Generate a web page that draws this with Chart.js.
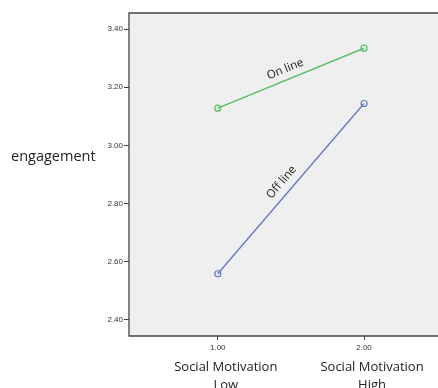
<!DOCTYPE html>
<html>
<head>
<meta charset="utf-8">
<script src="https://cdn.jsdelivr.net/npm/chart.js@4.4.1/dist/chart.umd.min.js"></script>
<style>
  html, body { margin: 0; padding: 0; background: #fff; overflow: hidden; }
  canvas { display: block; }
</style>
</head>
<body>
<canvas id="chart" width="458" height="388"></canvas>
<script>
// --- DATA ---
const xValues = [1, 2];
const groupLabels = [['Social Motivation', 'Low'], ['Social Motivation', 'High']];
const onlineValues = [3.128, 3.334];
const offlineValues = [2.559, 3.144];
const seriesNames = ['On line', 'Off line'];
const yTicks = [2.4, 2.6, 2.8, 3.0, 3.2, 3.4];
const yTitle = 'engagement';

const toPoints = vals => vals.map((v, i) => ({ x: xValues[i], y: v }));

// plot background + frame (right edge falls outside the window)
const plotBg = {
    id: 'plotBg',
    beforeDraw(chart) {
        const { ctx, chartArea: a } = chart;
        ctx.save();
        ctx.fillStyle = '#efefef';
        ctx.fillRect(a.left, a.top, a.right - a.left, a.bottom - a.top);
        ctx.strokeStyle = '#444';
        ctx.lineWidth = 1.3;
        ctx.beginPath();
        ctx.moveTo(a.right + 2, a.top);
        ctx.lineTo(a.left, a.top);
        ctx.lineTo(a.left, a.bottom);
        ctx.lineTo(a.right + 2, a.bottom);
        ctx.stroke();
        ctx.restore();
    }
};

// line labels, category names, y title
const extraText = {
    id: 'extraText',
    afterDraw(chart) {
        const { ctx, scales: { x, y }, chartArea: a } = chart;
        ctx.save();
        ctx.fillStyle = '#222';

        // labels along each line
        chart.data.datasets.forEach(ds => {
            const p0 = { x: x.getPixelForValue(ds.data[0].x), y: y.getPixelForValue(ds.data[0].y) };
            const p1 = { x: x.getPixelForValue(ds.data[1].x), y: y.getPixelForValue(ds.data[1].y) };
            const ang = Math.atan2(p1.y - p0.y, p1.x - p0.x);
            const mx = (p0.x + p1.x) / 2 - 2, my = (p0.y + p1.y) / 2;
            ctx.save();
            ctx.translate(mx, my);
            ctx.rotate(ang);
            ctx.font = '11.5px "Open Sans"';
            ctx.textAlign = 'center';
            ctx.textBaseline = 'bottom';
            ctx.fillText(ds.label, 0, -4);
            ctx.restore();
        });

        // category names under ticks (sit a little right of the tick, as in the source)
        ctx.font = '13px "Open Sans"';
        ctx.textAlign = 'center';
        ctx.textBaseline = 'middle';
        xValues.forEach((v, i) => {
            const px = x.getPixelForValue(v) + 8;
            groupLabels[i].forEach((line, j) => ctx.fillText(line, px, a.bottom + 31 + j * 18));
        });

        // y title (horizontal)
        ctx.font = '14.5px "Open Sans"';
        ctx.textAlign = 'left';
        ctx.fillText(yTitle, 11, y.getPixelForValue(2.96));
        ctx.restore();
    }
};

new Chart(document.getElementById('chart'), {
    type: 'scatter',
    data: {
        datasets: [
            {
                label: seriesNames[0],
                data: toPoints(onlineValues),
                showLine: true,
                borderColor: '#5cbf6c',
                borderWidth: 1.5,
                pointRadius: 3,
                pointBorderWidth: 1.2,
                pointBackgroundColor: 'rgba(0,0,0,0)',
                pointBorderColor: '#5cbf6c'
            },
            {
                label: seriesNames[1],
                data: toPoints(offlineValues),
                showLine: true,
                borderColor: '#6576bd',
                borderWidth: 1.3,
                pointRadius: 3,
                pointBorderWidth: 1.2,
                pointBackgroundColor: 'rgba(0,0,0,0)',
                pointBorderColor: '#6576bd'
            }
        ]
    },
    options: {
        responsive: false,
        animation: false,
        layout: { padding: { left: 99, top: 13, right: 0, bottom: 0 } },
        plugins: { legend: { display: false }, tooltip: { enabled: false } },
        scales: {
            x: {
                type: 'linear',
                min: 0.393, max: 2.607,
                afterBuildTicks: s => { s.ticks = xValues.map(v => ({ value: v })); },
                afterFit: s => { s.height = 52; },
                border: { display: false },
                grid: { drawOnChartArea: false, drawTicks: true, tickLength: 4, color: '#444' },
                ticks: {
                    color: '#333', padding: 3,
                    font: { size: 8, family: 'Liberation Sans' },
                    maxRotation: 0,
                    callback: v => v.toFixed(2)
                }
            },
            y: {
                min: 2.345, max: 3.455,
                afterBuildTicks: s => { s.ticks = yTicks.map(v => ({ value: v })); },
                afterFit: s => { s.width = 30; },
                border: { display: false },
                grid: { drawOnChartArea: false, drawTicks: true, tickLength: 5, color: '#444' },
                ticks: {
                    color: '#333', padding: 1,
                    font: { size: 8, family: 'Liberation Sans' },
                    callback: v => v.toFixed(2)
                }
            }
        }
    },
    plugins: [plotBg, extraText]
});
</script>
</body>
</html>
